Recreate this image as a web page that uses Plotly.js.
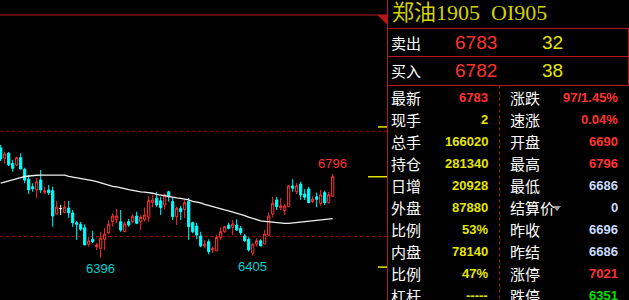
<!DOCTYPE html>
<html><head><meta charset="utf-8">
<script src="https://cdn.plot.ly/plotly-3.0.1.min.js"></script>
<style>html,body{margin:0;padding:0;background:#000;}#chart{width:629px;height:300px;}</style>
</head><body><div id="chart"></div>
<script>
// ---- candle data (index 0..83) ----
const openP  = [6920,6872,6895,6847,6839,6874,6818,6771,6735,6720,6767,6709,6720,6716,6605,6631,6611,6633,6610,6563,6556,6539,6460,6484,6449,6441,6484,6515,6568,6579,6568,6520,6568,6568,6595,6568,6579,6589,6659,6680,6668,6648,6711,6664,6592,6632,6627,6664,6563,6547,6500,6452,6472,6433,6429,6493,6520,6552,6541,6552,6536,6500,6484,6417,6461,6477,6461,6504,6605,6672,6635,6621,6640,6739,6711,6748,6700,6724,6664,6687,6656,6707,6659,6690];
const highP  = [6935,6903,6901,6863,6879,6895,6826,6791,6752,6777,6815,6735,6743,6735,6667,6648,6667,6667,6624,6571,6567,6556,6496,6524,6466,6520,6538,6576,6608,6629,6624,6567,6582,6603,6616,6600,6635,6691,6696,6711,6687,6704,6716,6686,6640,6643,6672,6681,6568,6563,6520,6480,6484,6449,6504,6541,6547,6563,6576,6579,6547,6509,6493,6461,6489,6484,6528,6611,6687,6687,6681,6653,6743,6771,6752,6759,6723,6735,6691,6707,6720,6716,6711,6796];
const lowP   = [6858,6847,6834,6807,6834,6818,6752,6700,6711,6681,6705,6700,6696,6544,6603,6600,6610,6586,6543,6481,6524,6455,6449,6466,6433,6396,6433,6509,6544,6562,6520,6519,6544,6560,6556,6528,6568,6568,6637,6640,6600,6627,6664,6576,6552,6576,6586,6481,6513,6484,6446,6441,6412,6417,6429,6481,6515,6532,6504,6525,6504,6472,6425,6405,6449,6452,6461,6500,6589,6624,6624,6600,6638,6711,6700,6672,6672,6656,6656,6637,6643,6648,6656,6686];
const closeP = [6868,6892,6839,6823,6874,6820,6767,6720,6726,6759,6720,6716,6707,6595,6638,6631,6638,6610,6563,6556,6532,6457,6476,6472,6457,6489,6509,6556,6595,6595,6528,6557,6552,6595,6560,6589,6600,6668,6672,6648,6635,6696,6687,6592,6632,6616,6659,6544,6520,6504,6452,6461,6425,6441,6493,6520,6544,6536,6557,6528,6515,6477,6433,6461,6477,6452,6509,6595,6656,6640,6644,6643,6739,6728,6739,6696,6685,6659,6676,6675,6696,6659,6696,6783];
const maLine = [6752,6758,6763,6767,6774,6779,6784,6787,6789,6790,6791,6791,6791,6791,6791,6791,6791,6785,6782,6778,6775,6771,6768,6764,6759,6753,6747,6741,6737,6734,6731,6726,6721,6717,6714,6711,6709,6707,6704,6699,6695,6692,6689,6686,6682,6679,6676,6672,6665,6662,6658,6651,6645,6639,6633,6628,6624,6620,6615,6610,6604,6597,6590,6584,6578,6572,6570,6568,6564,6561,6560,6560,6560,6562,6564,6565,6568,6570,6572,6574,6576,6579,6581,6583];

// marked extremes
const markIdx   = [83, 25, 63];
const markKind  = ['high','low','low'];
// price lines
const lastPrice = 6783, limitUp = 7021, limitDown = 6351;
const gridPrices = [7000, 6497];

// ---- quote panel text ----
const title = '郑油1905\u00a0 OI905';
const bookLabels = ['卖出','买入'];
const bookPrices = ['6783','6782'];
const bookVols   = ['32','38'];
const leftLabels  = ['最新','现手','总手','持仓','日增','外盘','比例','内盘','比例','杠杆'];
const leftValues  = ['6783','2','166020','281340','20928','87880','53%','78140','47%','-----'];
const rightLabels = ['涨跌','速涨','开盘','最高','最低','结算价','昨收','昨结','涨停','跌停'];
const rightValues = ['97/1.45%','0.04%','6690','6796','6686','0','6696','6686','7021','6351'];

const RED='#ff3232', CYAN='#00ffff', YEL='#e6e600', LIGHT='#c8dcff', GREEN='#00e000', BORDER='#b8161c';
const leftColors  = [RED,YEL,YEL,YEL,YEL,YEL,YEL,YEL,YEL,YEL];
const rightColors = [RED,RED,RED,RED,LIGHT,LIGHT,LIGHT,LIGHT,RED,GREEN];

const idx = openP.map((_,i)=>i);
function pick(f){const s={x:[],open:[],high:[],low:[],close:[]};idx.forEach(i=>{if(f(i)){s.x.push(i);s.open.push(openP[i]);s.high.push(highP[i]);s.low.push(lowP[i]);s.close.push(closeP[i]);}});return s;}
function candle(s,lineC,fillC){return Object.assign({type:'candlestick',hoverinfo:'skip',whiskerwidth:0,
  increasing:{line:{color:lineC,width:1},fillcolor:fillC},decreasing:{line:{color:lineC,width:1},fillcolor:fillC}},s);}
const up=pick(i=>closeP[i]>openP[i]), dn=pick(i=>closeP[i]<openP[i]), dj=pick(i=>closeP[i]===openP[i]);

const traces=[
  candle(dn,CYAN,CYAN),
  candle(up,RED,'#000000'),
  candle(dj,'#ffffff','#ffffff'),
  {type:'scatter',mode:'lines',x:idx,y:maLine,line:{color:'#f0f0f0',width:1.3},hoverinfo:'skip'}
];

const W=629,H=300,R=387,T=15;
const px=x=>x/R, py=y=>(H-y)/(H-T);
const FONT='Liberation Sans, Arial, sans-serif', CJK='Noto Sans CJK SC, sans-serif';

const shapes=[
  {type:'line',xref:'paper',yref:'paper',x0:0,x1:px(387),y0:py(15),y1:py(15),line:{color:BORDER,width:1}},
  {type:'line',xref:'paper',yref:'paper',x0:px(387.5),x1:px(387.5),y0:py(0),y1:py(300),line:{color:BORDER,width:1}},
  {type:'path',xref:'paper',yref:'paper',path:`M${px(377.5)},${py(15)} L${px(387.5)},${py(15)} L${px(387.5)},${py(25)} Z`,fillcolor:BORDER,line:{width:0}},
  {type:'rect',xref:'paper',yref:'paper',x0:px(387.5),x1:px(628.5),y0:py(28.5),y1:py(85.5),line:{color:BORDER,width:1}},
  {type:'line',xref:'paper',yref:'paper',x0:px(387.5),x1:px(628.5),y0:py(56.5),y1:py(56.5),line:{color:BORDER,width:1}},
  {type:'line',xref:'paper',yref:'paper',x0:px(499.5),x1:px(499.5),y0:py(85.5),y1:py(300),line:{color:BORDER,width:1,dash:'3px,3px'}},
  {type:'path',xref:'paper',yref:'paper',path:`M${px(553)},${py(206)} L${px(561)},${py(206)} L${px(557)},${py(211)} Z`,fillcolor:'#a0a0a0',line:{width:0}},
  {type:'line',xref:'paper',yref:'y',x0:px(368),x1:1,y0:lastPrice,y1:lastPrice,line:{color:YEL,width:1.5}},
  {type:'line',xref:'paper',yref:'y',x0:px(378),x1:1,y0:limitUp,y1:limitUp,line:{color:YEL,width:1.5}},
  {type:'line',xref:'paper',yref:'y',x0:px(378),x1:1,y0:limitDown,y1:limitDown,line:{color:YEL,width:1.5}}
];
gridPrices.forEach(g=>shapes.push({type:'line',xref:'paper',yref:'y',x0:0,x1:1,y0:g,y1:g,line:{color:'#b00000',width:1,dash:'dot'},layer:'below'}));

const ann=[];
markIdx.forEach((i,k)=>{
  const hi=markKind[k]==='high';
  ann.push({x:i,y:hi?highP[i]:lowP[i],xref:'x',yref:'y',text:String(hi?highP[i]:lowP[i]),showarrow:false,
    yanchor:hi?'bottom':'top',yshift:hi?1:-1,font:{family:FONT,size:13,color:hi?RED:'#00d2d2'}});
});
ann.push({x:px(390),y:py(13),xref:'paper',yref:'paper',text:title,showarrow:false,xanchor:'left',yanchor:'middle',
  font:{family:'Liberation Serif, Noto Sans CJK SC, serif',size:22,color:'#d2d200'}});
bookLabels.forEach((l,k)=>{
  const yc=42.5+28.5*k;
  ann.push({x:px(389),y:py(yc),xref:'paper',yref:'paper',text:l,showarrow:false,xanchor:'left',yanchor:'middle',font:{family:CJK,size:15,color:'#ffffff'}});
  ann.push({x:px(499),y:py(yc),xref:'paper',yref:'paper',text:bookPrices[k],showarrow:false,xanchor:'right',yanchor:'middle',font:{family:FONT,size:19,color:RED}});
  ann.push({x:px(565),y:py(yc),xref:'paper',yref:'paper',text:bookVols[k],showarrow:false,xanchor:'right',yanchor:'middle',font:{family:FONT,size:19,color:YEL}});
});
leftLabels.forEach((l,k)=>{
  const yc=97+22.1*k;
  ann.push({x:px(389),y:py(yc),xref:'paper',yref:'paper',text:l,showarrow:false,xanchor:'left',yanchor:'middle',font:{family:CJK,size:15,color:'#ffffff'}});
  ann.push({x:px(490),y:py(yc),xref:'paper',yref:'paper',text:'<b>'+leftValues[k]+'</b>',showarrow:false,xanchor:'right',yanchor:'middle',font:{family:FONT,size:13,color:leftColors[k]}});
  ann.push({x:px(508),y:py(yc),xref:'paper',yref:'paper',text:rightLabels[k],showarrow:false,xanchor:'left',yanchor:'middle',font:{family:CJK,size:15,color:'#ffffff'}});
  ann.push({x:px(620),y:py(yc),xref:'paper',yref:'paper',text:'<b>'+rightValues[k]+'</b>',showarrow:false,xanchor:'right',yanchor:'middle',font:{family:FONT,size:13,color:rightColors[k]}});
});

const layout={
  width:W,height:H,autosize:false,
  margin:{l:0,r:W-R,t:T,b:0,pad:0},
  paper_bgcolor:'#000',plot_bgcolor:'#000',
  showlegend:false,boxgap:0.45,boxgroupgap:0,
  xaxis:{range:[-0.175,96.575],visible:false,rangeslider:{visible:false},fixedrange:true},
  yaxis:{range:[6193.7,7556],visible:false,fixedrange:true},
  shapes:shapes,annotations:ann
};
Plotly.newPlot('chart',traces,layout,{staticPlot:true,displayModeBar:false});
</script></body></html>
